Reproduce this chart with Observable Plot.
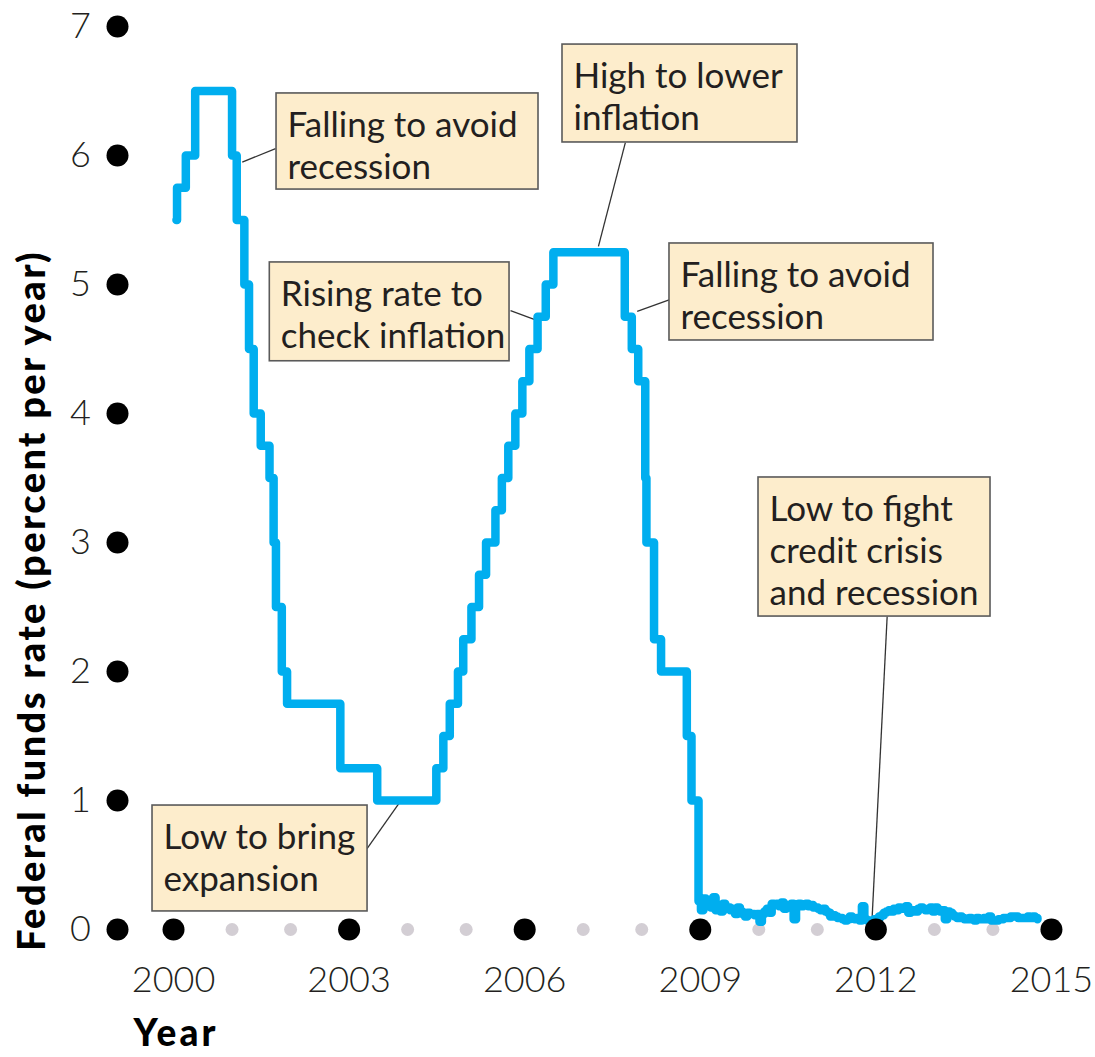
<!DOCTYPE html>
<html><head><meta charset="utf-8">
<script src="https://cdn.jsdelivr.net/npm/d3@7"></script>
<script src="https://cdn.jsdelivr.net/npm/@observablehq/plot@0.6"></script>
<style>html,body{margin:0;padding:0;background:#fff;} #chart{width:1095px;height:1057px;}</style>
</head><body><div id="chart"></div>
<script>
// Federal funds target rate (percent per year), change dates as decimal years
const targetDates = [2000.05, 2000.06, 2000.21, 2000.37, 2001.0, 2001.08, 2001.21, 2001.29, 2001.37, 2001.49, 2001.64, 2001.71, 2001.75, 2001.85, 2001.94, 2002.85, 2003.48, 2004.49, 2004.61, 2004.72, 2004.86, 2004.95, 2005.09, 2005.22, 2005.34, 2005.50, 2005.61, 2005.72, 2005.84, 2005.96, 2006.08, 2006.22, 2006.36, 2006.49, 2007.71, 2007.83, 2007.94, 2008.06, 2008.08, 2008.21, 2008.33, 2008.77, 2008.85];
const targetRates = [5.5, 5.75, 6.0, 6.5, 6.0, 5.5, 5.0, 4.5, 4.0, 3.75, 3.5, 3.0, 2.5, 2.0, 1.75, 1.25, 1.0, 1.25, 1.5, 1.75, 2.0, 2.25, 2.5, 2.75, 3.0, 3.25, 3.5, 3.75, 4.0, 4.25, 4.5, 4.75, 5.0, 5.25, 4.75, 4.5, 4.25, 3.5, 3.0, 2.25, 2.0, 1.5, 1.0];
// Effective rate after the end of 2008, read twice a month
const effStart = 2008.97;
const effPerYear = 24;
const effRates = [
  0.22, 0.15, 0.24, 0.18, 0.19, 0.17, 0.25, 0.15, 0.18, 0.14, 0.20, 0.16, 0.17, 0.15, 0.16, 0.12, 0.17, 0.14, 0.12, 0.10, 0.13, 0.12, 0.12, 0.11,
  0.12, 0.06, 0.12, 0.14, 0.16, 0.13, 0.20, 0.19, 0.20, 0.18, 0.21, 0.16, 0.18, 0.19, 0.20, 0.08, 0.19, 0.20, 0.18, 0.19, 0.20, 0.18, 0.19, 0.17,
  0.17, 0.16, 0.15, 0.16, 0.14, 0.13, 0.10, 0.11, 0.10, 0.09, 0.09, 0.08, 0.07, 0.08, 0.10, 0.09, 0.08, 0.09, 0.07, 0.18, 0.08, 0.07, 0.07, 0.06,
  0.08, 0.07, 0.10, 0.11, 0.13, 0.14, 0.15, 0.14, 0.16, 0.15, 0.17, 0.16, 0.16, 0.18, 0.13, 0.14, 0.15, 0.14, 0.16, 0.17, 0.16, 0.15, 0.16, 0.17,
  0.14, 0.17, 0.15, 0.14, 0.15, 0.08, 0.14, 0.13, 0.11, 0.10, 0.09, 0.10, 0.09, 0.08, 0.08, 0.09, 0.08, 0.07, 0.09, 0.08, 0.08, 0.09, 0.08, 0.10,
  0.07, 0.07, 0.07, 0.08, 0.08, 0.09, 0.09, 0.09, 0.10, 0.10, 0.10, 0.09, 0.09, 0.09, 0.09, 0.10, 0.09, 0.10, 0.09, 0.08
];
const labelYears = [2000, 2003, 2006, 2009, 2012, 2015];
const minorYears = [2001, 2002, 2004, 2005, 2007, 2008, 2010, 2011, 2013, 2014];
const rateTicks = [0, 1, 2, 3, 4, 5, 6, 7];
const yTitle = "Federal funds rate (percent per year)";
const xTitle = "Year";

// Annotation boxes and leader lines, in data units (year, percent)
const notes = [
  {label: "Falling to avoid\nrecession", bx1: 2001.76, bx2: 2006.236, by1: 6.481, by2: 5.736, fx: 2001.743, fy: 6.054, tx: 2001.174, ty: 5.948},
  {label: "High to lower\ninflation", bx1: 2006.646, bx2: 2010.661, by1: 6.860, by2: 6.101, fx: 2007.72, fy: 6.10, tx: 2007.26, ty: 5.295},
  {label: "Rising rate to\ncheck inflation", bx1: 2001.645, bx2: 2005.741, by1: 5.171, by2: 4.405, fx: 2005.758, fy: 4.798, tx: 2006.185, ty: 4.726},
  {label: "Falling to avoid\nrecession", bx1: 2008.474, bx2: 2012.985, by1: 5.318, by2: 4.566, fx: 2008.491, fy: 4.884, tx: 2007.922, ty: 4.791},
  {label: "Low to fight\ncredit crisis\nand recession", bx1: 2009.995, bx2: 2013.959, by1: 3.504, by2: 2.426, fx: 2012.193, fy: 2.426, tx: 2011.937, ty: 0.098},
  {label: "Low to bring\nexpansion", bx1: 1999.641, bx2: 2003.315, by1: 0.961, by2: 0.140, fx: 2003.307, fy: 0.626, tx: 2003.849, ty: 0.975}
];

const series = targetDates.map((d, i) => ({date: d, rate: targetRates[i]}))
  .concat(effRates.map((r, i) => ({date: effStart + i / effPerYear, rate: r})));

const ink = "#231f20";
const chart = Plot.plot({
  width: 1095,
  height: 1057,
  marginLeft: 114.5,
  marginRight: 14.8,
  marginTop: 26,
  marginBottom: 128,
  x: {domain: [1999, 2015.5], axis: null},
  y: {domain: [0, 7], axis: null},
  style: {fontFamily: "Lato, 'Open Sans', sans-serif", color: ink, background: "#fff", overflow: "visible"},
  marks: [
    Plot.dot(minorYears, {x: d => d, y: () => 0, r: 6.5, fill: "#d3ced4", stroke: "none"}),
    Plot.link(notes, {x1: "fx", y1: "fy", x2: "tx", y2: "ty", stroke: "#333", strokeWidth: 1.3}),
    Plot.rect(notes, {x1: "bx1", x2: "bx2", y1: "by1", y2: "by2", fill: "#fdedcc", stroke: "#5a5a5a", strokeWidth: 1.6}),
    Plot.text(notes, {x: "bx1", y: "by1", text: "label", textAnchor: "start", lineAnchor: "top", dx: 11, dy: 14, fontSize: 35, lineHeight: 1.2, fill: ink}),
    Plot.line(series, {x: "date", y: "rate", curve: "step-after", stroke: "#00aeef", strokeWidth: 8.5, strokeLinejoin: "round", strokeLinecap: "round"}),
    Plot.dot(labelYears, {x: d => d, y: () => 0, r: 11, fill: "#000", stroke: "none"}),
    Plot.dot(rateTicks, {y: d => d, frameAnchor: "left", dx: 2.5, r: 11, fill: "#000", stroke: "none"}),
    Plot.text(rateTicks, {y: d => d, text: d => String(d), frameAnchor: "left", dx: -24, textAnchor: "end", lineAnchor: "middle", fontSize: 36, fontWeight: 300, fill: ink}),
    Plot.text(labelYears, {x: d => d, y: () => 0, text: d => String(d), dy: 51, textAnchor: "middle", lineAnchor: "middle", fontSize: 36, fontWeight: 300, fill: ink}),
    Plot.text([xTitle], {text: d => d, frameAnchor: "bottom-left", dx: 18.5, dy: 105, textAnchor: "start", lineAnchor: "middle", fontSize: 37, fontWeight: 900, fill: "#000"}),
    Plot.text([yTitle], {text: d => d, frameAnchor: "left", dx: -82.5, dy: 122.5, rotate: -90, textAnchor: "middle", lineAnchor: "middle", fontSize: 38, fontWeight: 900, fill: "#000"})
  ]
});
for (const t of chart.querySelectorAll("text")) {
  if (t.textContent === yTitle) t.style.letterSpacing = "2.4px";
  if (t.textContent === xTitle) t.style.letterSpacing = "3px";
}
document.getElementById("chart").appendChild(chart);
</script>
</body></html>
